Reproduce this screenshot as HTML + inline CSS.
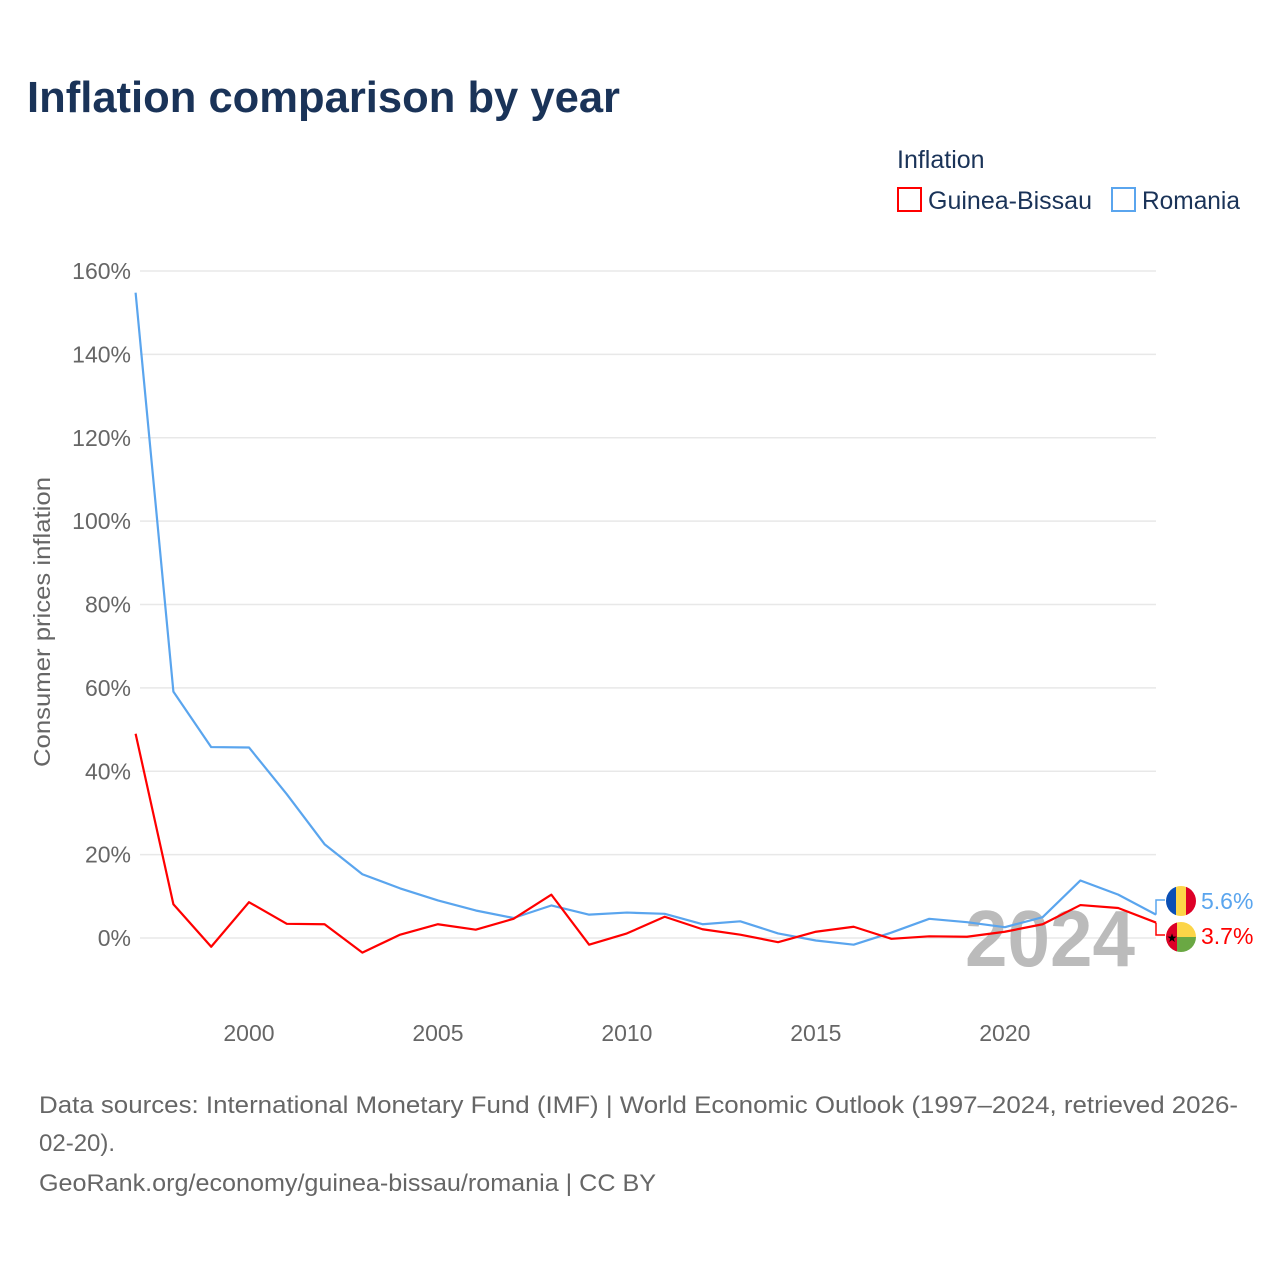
<!DOCTYPE html>
<html><head><meta charset="utf-8"><style>
body{margin:0;background:#fff;width:1280px;height:1280px;overflow:hidden;font-family:"Liberation Sans",sans-serif}
</style></head><body>
<svg id="chart" width="1280" height="1280" xmlns="http://www.w3.org/2000/svg">
<text x="27" y="112" font-size="44" font-weight="bold" fill="#1a3358" textLength="593" lengthAdjust="spacingAndGlyphs">Inflation comparison by year</text>
<text x="897" y="168" font-size="25" fill="#1a3358">Inflation</text>
<g><rect x="898" y="188" width="23" height="23" fill="none" stroke="#ff0000" stroke-width="2"/><text x="928" y="209" font-size="25" fill="#1a3358" textLength="164" lengthAdjust="spacingAndGlyphs">Guinea-Bissau</text></g>
<g><rect x="1112" y="188" width="23" height="23" fill="none" stroke="#5aa5ee" stroke-width="2"/><text x="1142" y="209" font-size="25" fill="#1a3358" textLength="98" lengthAdjust="spacingAndGlyphs">Romania</text></g>
<g id="grid"></g>
<g id="yticks"></g>
<g id="xticks"></g>
<text transform="translate(50,622) rotate(-90)" text-anchor="middle" font-size="23" fill="#666" textLength="290" lengthAdjust="spacingAndGlyphs">Consumer prices inflation</text>
<text x="1135" y="966" text-anchor="end" font-size="80" font-weight="bold" fill="#bbb" textLength="170" lengthAdjust="spacingAndGlyphs">2024</text>
<g id="series"></g>
<text font-size="24" fill="#666"><tspan x="39" y="1113" textLength="1199" lengthAdjust="spacingAndGlyphs">Data sources: International Monetary Fund (IMF) | World Economic Outlook (1997–2024, retrieved 2026-</tspan><tspan x="39" y="1151">02-20).</tspan><tspan x="39" y="1191" textLength="617" lengthAdjust="spacingAndGlyphs">GeoRank.org/economy/guinea-bissau/romania | CC BY</tspan></text>
</svg>
<script>
const years=[1997,1998,1999,2000,2001,2002,2003,2004,2005,2006,2007,2008,2009,2010,2011,2012,2013,2014,2015,2016,2017,2018,2019,2020,2021,2022,2023,2024];
const guineaBissau=[49,8.1,-2.1,8.6,3.4,3.3,-3.5,0.8,3.3,2.0,4.6,10.4,-1.6,1.1,5.1,2.1,0.8,-1.0,1.5,2.7,-0.2,0.4,0.3,1.5,3.3,7.9,7.2,3.7];
const romania=[154.8,59.1,45.8,45.7,34.5,22.5,15.3,11.9,9.0,6.6,4.8,7.8,5.6,6.1,5.8,3.3,4.0,1.1,-0.6,-1.6,1.3,4.6,3.8,2.6,5.0,13.8,10.4,5.6];
const yTicks=[0,20,40,60,80,100,120,140,160];
const xTicks=[2000,2005,2010,2015,2020];
const NS="http://www.w3.org/2000/svg";
const X=v=>135.6+(v-1997)*(1156-135.6)/27;
const Y=v=>938-v*(938-271)/160;
function mk(t,a,p){const e=document.createElementNS(NS,t);for(const k in a)e.setAttribute(k,a[k]);p.appendChild(e);return e;}
const grid=document.getElementById('grid'),yt=document.getElementById('yticks'),xt=document.getElementById('xticks'),ser=document.getElementById('series');
yTicks.forEach(v=>{
 const l=mk('line',{x1:140,x2:1156,y1:Y(v),y2:Y(v),stroke:'#e8e8e8','stroke-width':1.5},grid);
 
 
 const t=mk('text',{x:131,y:Y(v)+8,'text-anchor':'end','font-size':23,fill:'#666'},yt);t.textContent=v+'%';
 
 
});
xTicks.forEach(v=>{
 const t=mk('text',{x:X(v),y:1041,'text-anchor':'middle','font-size':23,fill:'#666'},xt);t.textContent=v;
 
 
});
function line(data,color,name){
 const p=mk('polyline',{points:data.map((v,i)=>X(years[i])+','+Y(v)).join(' '),fill:'none',stroke:color,'stroke-width':2.2,'stroke-linejoin':'round'},ser);
 
 
}
line(romania,'#5aa5ee','romania-line');
line(guineaBissau,'#ff0000','guinea-bissau-line');
const rl=romania[romania.length-1],gl=guineaBissau[guineaBissau.length-1];
const ry=900,gy=935;
mk('polyline',{points:`${X(2024)},${Y(rl)} ${X(2024)},${ry} 1165,${ry}`,fill:'none',stroke:'#5aa5ee','stroke-width':1.5},ser);
mk('polyline',{points:`${X(2024)},${Y(gl)} ${X(2024)},${gy} 1165,${gy}`,fill:'none',stroke:'#ff0000','stroke-width':1.5},ser);
const f1=mk('g',{},ser);


mk('clipPath',{id:'c1'},f1);mk('circle',{cx:1181,cy:ry+1,r:15},document.getElementById('c1'));
const g1=mk('g',{'clip-path':'url(#c1)'},f1);
mk('rect',{x:1166,y:ry-14,width:10,height:30,fill:'#0a4fb5'},g1);mk('rect',{x:1176,y:ry-14,width:10,height:30,fill:'#fcd548'},g1);mk('rect',{x:1186,y:ry-14,width:10,height:30,fill:'#dd0027'},g1);
const f2=mk('g',{},ser);


mk('clipPath',{id:'c2'},f2);mk('circle',{cx:1181,cy:gy+2,r:15},document.getElementById('c2'));
const g2=mk('g',{'clip-path':'url(#c2)'},f2);
mk('rect',{x:1166,y:gy-13,width:30,height:15,fill:'#fcd548'},g2);mk('rect',{x:1166,y:gy+2,width:30,height:15,fill:'#6aa843'},g2);mk('rect',{x:1166,y:gy-13,width:11,height:30,fill:'#dd0027'},g2);
const st=mk('text',{x:1172,y:gy+7,'text-anchor':'middle','font-size':12,fill:'#000'},g2);st.textContent='★';
const t1=mk('text',{x:1201,y:ry+9,'font-size':23,fill:'#5aa5ee'},ser);t1.textContent=rl.toFixed(1)+'%';


const t2=mk('text',{x:1201,y:gy+9,'font-size':23,fill:'#ff0000'},ser);t2.textContent=gl.toFixed(1)+'%';


</script>
</body></html>
